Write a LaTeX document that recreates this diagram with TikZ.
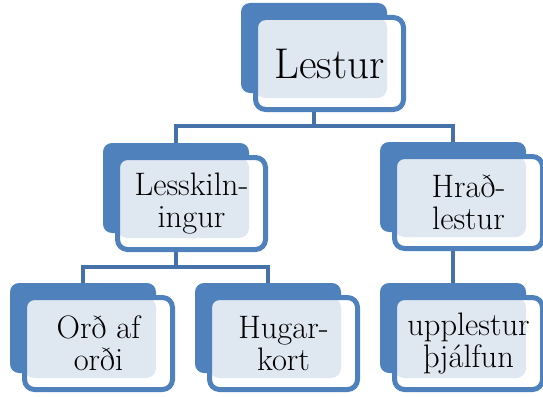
\documentclass[tikz,border=0pt]{standalone}
\definecolor{accent}{HTML}{4F81BD}
\definecolor{connc}{HTML}{4672AA}
\definecolor{dotc}{HTML}{DFE7F1}
\pgfdeclarelayer{bg}
\pgfsetlayers{bg,main}
\tikzset{
  backbox/.style={fill=accent, rounded corners=9pt, minimum width=146pt,
    minimum height=90pt, inner sep=0pt},
  frontbox/.style={draw=accent, line width=5pt, fill=white, rounded corners=10pt,
    minimum width=148pt, minimum height=92pt, inner sep=0pt, align=center,
    font=\rmfamily\fontsize{32.5}{32}\selectfont,
    path picture={\fill[dotc] (path picture bounding box.north west) rectangle
      ([xshift=-16.5pt,yshift=11.5pt]path picture bounding box.south east);}},
  conn/.style={draw=connc, line width=4pt},
}
\begin{document}
\begin{tikzpicture}[x=1pt,y=-1pt]
\useasboundingbox (0,0) rectangle (543,396);
% back boxes
\node[backbox] (lb) at (314,48) {};
\node[backbox] (sb) at (176,188) {};
\node[backbox] (hb) at (453,187) {};
\node[backbox] (ob) at (83,328) {};
\node[backbox] (kb) at (268,328) {};
\node[backbox] (ub) at (453,328) {};
% front boxes
\node[frontbox, font=\rmfamily\fontsize{43}{46}\selectfont] (l) at ([xshift=15.5pt,yshift=-15.5pt]lb.center) {Lestur};
\node[frontbox] (s) at ([xshift=15.5pt,yshift=-15.5pt]sb.center) {Lesskiln-\\ingur};
\node[frontbox] (h) at ([xshift=15.5pt,yshift=-15.5pt]hb.center) {Hrað-\\lestur};
\node[frontbox] (o) at ([xshift=15.5pt,yshift=-15.5pt]ob.center) {Orð af\\orði};
\node[frontbox] (k) at ([xshift=15.5pt,yshift=-15.5pt]kb.center) {Hugar-\\kort};
\node[frontbox] (u) at ([xshift=15.5pt,yshift=-15.5pt]ub.center) {upplestur\\þjálfun};
% junction levels
\coordinate (j1) at (314,126);
\coordinate (j2) at (176,267);
\begin{pgfonlayer}{bg}
\draw[conn] (lb.center |- l.south) -- (lb.center |- j1) -| (sb.north);
\draw[conn] (lb.center |- j1) -| (hb.north);
\draw[conn] (sb.center |- s.south) -- (sb.center |- j2) -| (ob.north);
\draw[conn] (sb.center |- j2) -| (kb.north);
\draw[conn] (hb.center |- h.south) -- (ub.north);
\end{pgfonlayer}
\end{tikzpicture}
\end{document}
